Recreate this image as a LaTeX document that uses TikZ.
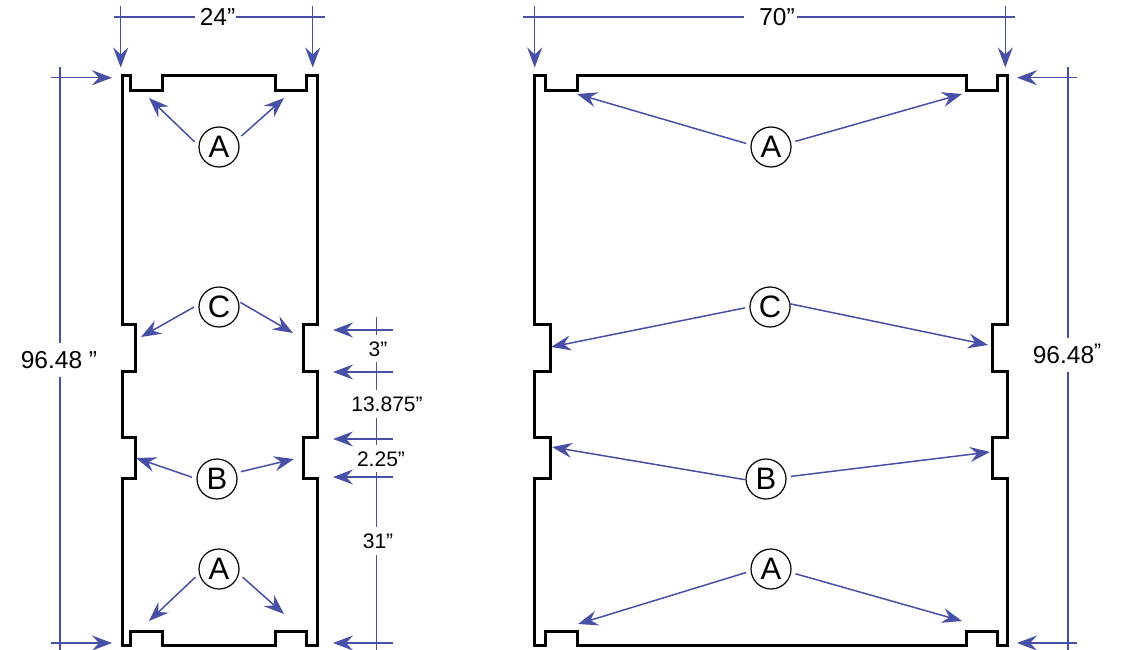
\documentclass[tikz,border=0pt]{standalone}
\usepackage{fontspec}
\setmainfont{Liberation Sans}
\usetikzlibrary{arrows.meta,calc}
\definecolor{dimblue}{HTML}{484FA6}
\tikzset{
  dimline/.style={dimblue, line width=1.5pt},
  dimarrow/.style={dimline, -{Stealth[length=20pt, width=15pt, inset=7pt]}},
  panel/.style={line width=3pt, miter limit=10},
  letter/.style={circle, draw, line width=1.2pt, minimum size=40pt, inner sep=0pt, outer sep=5pt, font=\fontsize{31}{31}\selectfont},
  biglabel/.style={inner xsep=5pt, inner ysep=8pt, text height=17pt, text depth=0pt, font=\fontsize{24.5}{25}\selectfont},
  smalllabel/.style={inner xsep=2pt, inner ysep=6pt, text height=15pt, text depth=0pt, font=\fontsize{21}{22}\selectfont},
}
\newcommand{\highquote}{\raisebox{5pt}{\fontsize{21}{22}\selectfont ”}}

\begin{document}
\begin{tikzpicture}[x=1pt, y=-1pt]
  \useasboundingbox (0,0) rectangle (1121,650);

  % narrow panel
  \draw[panel] (122,76) -- (130,76) -- (130,91) -- (162,91) -- (162,76) -- (275,76) -- (275,91) -- (306,91) -- (306,76) -- (317,76)
    -- (317,324) -- (303,324) -- (303,371) -- (317,371) -- (317,437) -- (303,437) -- (303,478) -- (317,478)
    -- (317,645) -- (306,645) -- (306,631) -- (275,631) -- (275,645) -- (162,645) -- (162,631) -- (130,631) -- (130,645) -- (122,645)
    -- (122,478) -- (135,478) -- (135,437) -- (122,437) -- (122,371) -- (135,371) -- (135,324) -- (122,324) -- cycle;

  % wide panel
  \draw[panel] (534,76) -- (545,76) -- (545,91) -- (577,91) -- (577,76) -- (966,76) -- (966,91) -- (997,91) -- (997,76) -- (1007,76)
    -- (1007,324) -- (992,324) -- (992,371) -- (1007,371) -- (1007,437) -- (992,437) -- (992,478) -- (1007,478)
    -- (1007,645) -- (997,645) -- (997,631) -- (966,631) -- (966,645) -- (577,645) -- (577,631) -- (545,631) -- (545,645) -- (534,645)
    -- (534,478) -- (550,478) -- (550,437) -- (534,437) -- (534,371) -- (550,371) -- (550,324) -- (534,324) -- cycle;

  % letters
  \node[letter] (atopn) at (219,147) {A};
  \node[letter] (cn) at (219,307) {C};
  \node[letter] (bn) at (217,479) {B};
  \node[letter] (abotn) at (219,569) {A};
  \node[letter] (atopw) at (771,147) {A};
  \node[letter] (cw) at (770,307) {C};
  \node[letter] (bw) at (766,479) {B};
  \node[letter] (abotw) at (771,569) {A};

  % letter arrows, narrow panel
  \coordinate (atopnl) at (149,98);
  \coordinate (atopnr) at (284,98);
  \coordinate (cnl) at (141,337);
  \coordinate (cnr) at (293,333);
  \coordinate (bnl) at (136,458);
  \coordinate (bnr) at (294,459);
  \coordinate (abotnl) at (149,621);
  \coordinate (abotnr) at (284,614);
  \draw[dimarrow] (atopn.168) -- (atopnl);
  \draw[dimarrow] (atopn.26) -- (atopnr);
  \draw[dimarrow] (cn.180) -- (cnl);
  \draw[dimarrow, shorten <=-4pt] (cn.6) -- (cnr);
  \draw[dimarrow] (bn.176) -- (bnl);
  \draw[dimarrow] (bn.17) -- (bnr);
  \draw[dimarrow] (abotn.199) -- (abotnl);
  \draw[dimarrow] (abotn.-19) -- (abotnr);

  % letter arrows, wide panel
  \coordinate (atopwl) at (577,94);
  \coordinate (atopwr) at (962,94);
  \coordinate (cwl) at (551,347);
  \coordinate (cwr) at (988,345);
  \coordinate (bwl) at (552,447);
  \coordinate (bwr) at (990,452);
  \coordinate (abotwl) at (578,624);
  \coordinate (abotwr) at (962,621);
  \draw[dimarrow] (atopw.172) -- (atopwl);
  \draw[dimarrow] (atopw.13) -- (atopwr);
  \draw[dimarrow] (cw.182) -- (cwl);
  \draw[dimarrow, shorten <=-6pt] (cw.5) -- (cwr);
  \draw[dimarrow, shorten <=-4pt] (bw.180) -- (bwl);
  \draw[dimarrow] (bw.6) -- (bwr);
  \draw[dimarrow] (abotw.188) -- (abotwl);
  \draw[dimarrow] (abotw.-11) -- (abotwr);

  % width dimensions
  \node[biglabel] (widthn) at (217.5,17) {24”};
  \coordinate (widthna) at (114,17);
  \coordinate (widthnb) at (325,17);
  \draw[dimline] (widthna) -- (widthn.west);
  \draw[dimline, shorten <=-4pt] (widthn.east) -- (widthnb);
  \node[biglabel] (widthw) at (777,17) {70”};
  \coordinate (widthwa) at (523,17);
  \coordinate (widthwb) at (1015,17);
  \draw[dimline, shorten >=10pt] (widthwa) -- (widthw.west);
  \draw[dimline, shorten <=-3pt] (widthw.east) -- (widthwb);
  \foreach \name/\x in {na/120.7,nb/312.7,wa/534.7,wb/1005.3} {
    \coordinate (drop\name) at (\x,6);
    \coordinate (droptip\name) at (\x,67.5);
    \draw[dimarrow] (drop\name) -- (droptip\name);
  }

  % height dimensions
  \foreach \name/\y in {top/77.7,bot/643} {
    \coordinate (heightn\name) at (51,\y);
    \coordinate (heightntip\name) at (112,\y);
    \draw[dimarrow] (heightn\name) -- (heightntip\name);
    \coordinate (heightw\name) at (1077,\y);
    \coordinate (heightwtip\name) at (1017,\y);
    \draw[dimarrow] (heightw\name) -- (heightwtip\name);
  }
  \node[biglabel] (heightn) at (59,360) {96.48 ”};
  \coordinate (heightna) at (60,67);
  \coordinate (heightnb) at (60,650);
  \draw[dimline] (heightna) -- (heightna |- heightn.north);
  \draw[dimline] (heightna |- heightn.south) -- (heightnb);
  \node[biglabel] (heightw) at (1067,355) {96.48\highquote};
  \coordinate (heightwa) at (1068,67);
  \coordinate (heightwb) at (1068,650);
  \draw[dimline] (heightwa) -- (heightwa |- heightw.north);
  \draw[dimline] (heightwa |- heightw.south) -- (heightwb);

  % notch dimensions
  \foreach \i/\y in {1/330,2/372,3/439,4/477,5/643} {
    \coordinate (notch\i) at (393,\y);
    \coordinate (notchtip\i) at (333,\y);
    \draw[dimarrow] (notch\i) -- (notchtip\i);
  }
  \node[smalllabel] (dimthree) at (378,348.5) {3”};
  \node[smalllabel] (dimgap) at (387,404) {13.875”};
  \node[smalllabel] (dimtwo) at (381,458.5) {2.25”};
  \node[smalllabel] (dimbot) at (378,541) {31”};
  \coordinate (notcha) at (376.3,317);
  \coordinate (notchb) at (376.3,650);
  \draw[dimline] (notcha) -- (notcha |- dimthree.north);
  \draw[dimline] (notcha |- dimthree.south) -- (notcha |- dimgap.north);
  \draw[dimline] (notcha |- dimgap.south) -- (notcha |- dimtwo.north);
  \draw[dimline] (notcha |- dimtwo.south) -- (notcha |- dimbot.north);
  \draw[dimline] (notcha |- dimbot.south) -- (notchb);
\end{tikzpicture}
\end{document}
